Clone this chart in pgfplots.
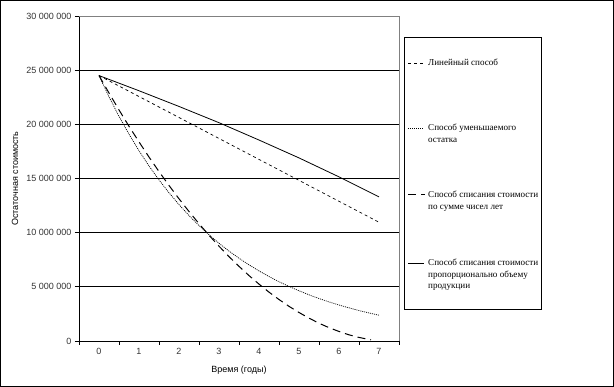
\documentclass[border=0pt]{standalone}
\usepackage{fontspec}
\setmainfont{Liberation Sans}
\newfontfamily\seriffont{Liberation Serif}
\usepackage{pgfplots}
\pgfplotsset{compat=1.18}
\definecolor{bordergray}{RGB}{128,128,128}
\begin{document}
\begin{tikzpicture}
\useasboundingbox (0,0) rectangle (614pt,387pt);
\draw[line width=1pt] (0.5pt,0.5pt) rectangle (613.5pt,386.5pt);
\begin{axis}[
  at={(79pt,46pt)}, anchor=south west,
  scale only axis, width=320pt, height=325pt,
  xmin=0, xmax=8, ymin=0, ymax=30,
  axis lines=left, axis line style={-, black, line width=0.8pt},
  tick align=outside,
  xtick={0.5,1.5,2.5,3.5,4.5,5.5,6.5,7.5},
  xticklabels={0,1,2,3,4,5,6,7},
  major x tick style={draw=none},
  major tick length=4pt,
  minor xtick={0,1,2,3,4,5,6,7,8},
  minor tick length=4pt,
  minor tick style={black, line width=0.8pt},
  ytick={0,5,10,15,20,25,30},
  yticklabels={0,5~000~000,10~000~000,15~000~000,20~000~000,25~000~000,30~000~000},
  major y tick style={black, line width=0.8pt},
  extra y ticks={5,10,15,20,25},
  extra y tick labels={},
  extra y tick style={ymajorgrids=true, major grid style={black, line width=0.8pt}},
  ticklabel style={font=\fontsize{9}{10}\selectfont, color=black!80},
  xlabel={Время (годы)},
  ylabel={Остаточная стоимость},
  xlabel style={at={(axis description cs:0.5,-0.089)}, anchor=center, font=\fontsize{9}{10}\selectfont},
  ylabel style={at={(axis description cs:-0.2,0.5)}, anchor=center, font=\fontsize{9}{10}\selectfont},
  clip=false,
]
% Линейный способ
\addplot[black, line width=0.7pt, dash pattern=on 3pt off 3pt] coordinates {(0.5,24.5) (7.5,10.96)};
% Способ уменьшаемого остатка
\addplot[black, line width=0.7pt, dash pattern=on 1pt off 1pt] coordinates {
(0.5,24.5) (0.75,22.54) (1.0,20.74) (1.25,19.09) (1.5,17.56) (1.75,16.16) (2.0,14.87) (2.25,13.68)
(2.5,12.59) (2.75,11.58) (3.0,10.66) (3.25,9.81) (3.5,9.02) (3.75,8.30) (4.0,7.64) (4.25,7.03)
(4.5,6.47) (4.75,5.95) (5.0,5.47) (5.25,5.04) (5.5,4.64) (5.75,4.26) (6.0,3.92) (6.25,3.61)
(6.5,3.32) (6.75,3.06) (7.0,2.81) (7.25,2.59) (7.5,2.38)};
% Способ списания стоимости по сумме чисел лет
\addplot[black, line width=1.0pt, dash pattern=on 8pt off 5pt] coordinates {
(0.5,24.5) (0.75,22.89) (1.0,21.33) (1.25,19.82) (1.5,18.38) (1.75,16.98) (2.0,15.64) (2.25,14.36)
(2.5,13.13) (2.75,11.95) (3.0,10.83) (3.25,9.76) (3.5,8.75) (3.75,7.79) (4.0,6.89) (4.25,6.04)
(4.5,5.25) (4.75,4.51) (5.0,3.83) (5.25,3.20) (5.5,2.63) (5.75,2.11) (6.0,1.64) (6.25,1.23)
(6.5,0.88) (6.75,0.57) (7.0,0.33) (7.25,0.14) (7.3,0.11)};
% Способ списания стоимости пропорционально объему продукции
\addplot[black, line width=0.8pt] coordinates {
(0.5,24.5) (1.5,23.1) (2.5,21.65) (3.5,20.15) (4.5,18.55) (5.5,16.9) (6.5,15.15) (7.5,13.3)};
\draw[bordergray, line width=0.8pt] (rel axis cs:0,1) -- (rel axis cs:1,1) -- (rel axis cs:1,0);
\end{axis}
% legend
\draw[black, line width=0.9pt] (404.5pt,78pt) rectangle (541.5pt,350pt);
\draw[black, line width=0.7pt, dash pattern=on 3pt off 3pt] (408pt,324pt) -- (424pt,324pt);
\draw[black, line width=0.7pt, dash pattern=on 1pt off 1pt] (408pt,259pt) -- (424pt,259pt);
\draw[black, line width=1.0pt, dash pattern=on 8pt off 5pt] (408pt,192pt) -- (425pt,192pt);
\draw[black, line width=0.8pt] (408pt,124pt) -- (424pt,124pt);
\begin{scope}[every node/.style={anchor=base west, inner sep=0pt, font=\seriffont\fontsize{9.1}{11.7}\selectfont}]
\node at (428pt,321.5pt) {\parbox[t]{112pt}{\raggedright Линейный способ}};
\node at (428pt,256.5pt) {\parbox[t]{112pt}{\raggedright Способ уменьшаемого\\остатка}};
\node at (428pt,189.5pt) {\parbox[t]{112pt}{\raggedright Способ списания стоимости\\по сумме чисел лет}};
\node at (428pt,121.5pt) {\parbox[t]{112pt}{\raggedright Способ списания стоимости\\пропорционально объему\\продукции}};
\end{scope}
\end{tikzpicture}
\end{document}
